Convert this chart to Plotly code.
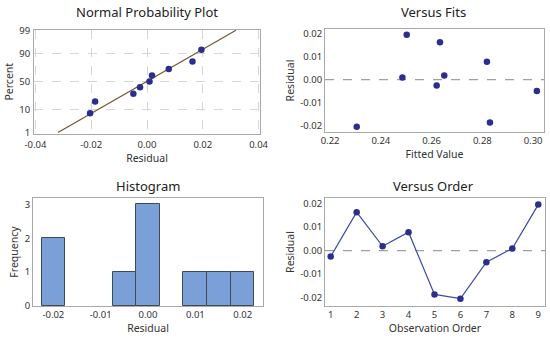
import plotly.graph_objects as go
from statistics import NormalDist, mean, stdev

# ---- data ----
observation = [1, 2, 3, 4, 5, 6, 7, 8, 9]
residuals = [-0.0025, 0.0163, 0.0018, 0.0078, -0.0186, -0.0204, -0.0049, 0.0009, 0.0195]
fitted = [0.2620, 0.2633, 0.2650, 0.2818, 0.2830, 0.2305, 0.3015, 0.2485, 0.2502]
# normal-plot percents of the sorted residuals
sorted_resid = [-0.0204, -0.0186, -0.0049, -0.0025, 0.0009, 0.0018, 0.0078, 0.0163, 0.0195]
percents = [7.4, 18.1, 28.7, 39.4, 50.0, 60.6, 71.3, 81.9, 92.6]
pct_ticks = [1, 10, 50, 90, 99]

nd = NormalDist()
z = lambda p: nd.inv_cdf(p / 100.0)

FONT = "Noto Sans"
MARK = "#2b2d8f"
FRAME = "#a8a8a8"
TXT = "#333333"

fig = go.Figure()

# Normal probability plot
m, s = mean(residuals), stdev(residuals)
zl = [z(1), z(99)]
fig.add_trace(go.Scatter(x=[m + s * v for v in zl], y=zl, mode="lines",
                         line=dict(color="#6b5530", width=1.2), xaxis="x", yaxis="y",
                         hoverinfo="skip"))
fig.add_trace(go.Scatter(x=sorted_resid, y=[z(p) for p in percents], mode="markers",
                         marker=dict(color=MARK, size=6.5), xaxis="x", yaxis="y"))

# Versus fits
fig.add_trace(go.Scatter(x=fitted, y=residuals, mode="markers",
                         marker=dict(color=MARK, size=6.5), xaxis="x2", yaxis="y2"))

# Histogram
fig.add_trace(go.Histogram(x=residuals, xbins=dict(start=-0.0225, end=0.0225, size=0.005),
                           marker=dict(color="#7ba0d8", line=dict(color="#3f4a55", width=1)),
                           xaxis="x3", yaxis="y3"))

# Versus order
fig.add_trace(go.Scatter(x=observation, y=residuals, mode="lines+markers",
                         line=dict(color="#3d4aa8", width=1.2),
                         marker=dict(color=MARK, size=6.5), xaxis="x4", yaxis="y4"))

def ax(domain, rng, tickvals, ticktext=None, title="", anchor="", grid=False, standoff=3,
       lblstand=0):
    d = dict(domain=domain, range=rng, tickvals=tickvals, showline=True, mirror=True,
             linecolor=FRAME, linewidth=1, ticks="",
             tickfont=dict(family=FONT, size=9.5, color=TXT), zeroline=False,
             showgrid=grid, gridcolor="#d6d6d6", griddash="dash", gridwidth=1,
             anchor=anchor, automargin=False, ticklabelstandoff=lblstand,
             title=dict(text=title, standoff=standoff, font=dict(family=FONT, size=10.5, color=TXT)))
    if ticktext is not None:
        d["ticktext"] = ticktext
    return d

W, H = 550, 340
px = lambda a, b: [a / W, b / W]
py = lambda top, bot: [1 - bot / H, 1 - top / H]

fig.update_layout(
    template="none",
    width=W, height=H, margin=dict(l=0, r=0, t=0, b=0),
    paper_bgcolor="white", plot_bgcolor="white", showlegend=False, bargap=0,
    xaxis=ax(px(34, 260), [-0.0405, 0.0405], [-0.04, -0.02, 0, 0.02, 0.04],
             ["-0.04", "-0.02", "0.00", "0.02", "0.04"], "Residual", "y", grid=True,
             standoff=1, lblstand=2),
    yaxis=ax(py(30, 133.5), [-2.37, 2.34], [z(p) for p in pct_ticks],
             [str(p) for p in pct_ticks], "Percent", "x", grid=True, lblstand=1),
    xaxis2=ax(px(325, 544), [0.218, 0.3043], [0.22, 0.24, 0.26, 0.28, 0.30],
              ["0.22", "0.24", "0.26", "0.28", "0.30"], "Fitted Value", "y2"),
    yaxis2=ax(py(29, 132), [-0.0227, 0.022], [-0.02, -0.01, 0, 0.01, 0.02],
              ["-0.02", "-0.01", "0.00", "0.01", "0.02"], "Residual", "x2"),
    xaxis3=ax(px(33, 263), [-0.0243, 0.0243], [-0.02, -0.01, 0, 0.01, 0.02],
              ["-0.02", "-0.01", "0.00", "0.01", "0.02"], "Residual", "y3"),
    yaxis3=ax(py(198, 306), [0, 3.19], [0, 1, 2, 3], None, "Frequency", "x3"),
    xaxis4=ax(px(325, 545), [0.78, 9.26], observation, None, "Observation Order", "y4"),
    yaxis4=ax(py(198, 306), [-0.0235, 0.0223], [-0.02, -0.01, 0, 0.01, 0.02],
              ["-0.02", "-0.01", "0.00", "0.01", "0.02"], "Residual", "x4"),
)

for xr, yr in (("x2", "y2"), ("x4", "y4")):
    fig.add_shape(type="line", xref=f"{xr} domain", yref=yr, x0=0, x1=1, y0=0, y1=0,
                  line=dict(color="#a0a0a0", width=1.3, dash="dash"), layer="below")

titles = [("Normal Probability Plot", 147, 12), ("Versus Fits", 433, 12),
          ("Histogram", 148, 186), ("Versus Order", 433, 186)]
for t, x, y in titles:
    fig.add_annotation(text=t, x=x / W, y=1 - y / H, xref="paper", yref="paper",
                       showarrow=False, xanchor="center", yanchor="middle",
                       font=dict(family=FONT, size=13, color="#222222"))

fig.write_html("out.html", config={"displayModeBar": False},
               post_script="document.body.style.margin='0';document.body.style.overflow='hidden';")
